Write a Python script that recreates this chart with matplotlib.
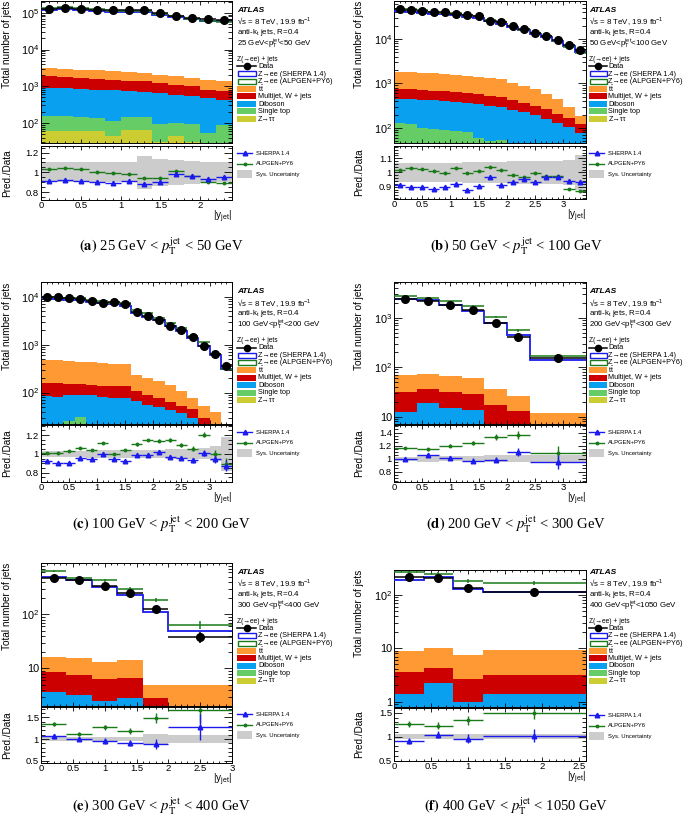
import numpy as np
import matplotlib
matplotlib.use("Agg")
import matplotlib.pyplot as plt
from matplotlib.patches import Rectangle
from matplotlib.lines import Line2D
from matplotlib.ticker import FixedLocator, MultipleLocator, FuncFormatter, LogLocator, NullFormatter

plt.rcParams['font.family'] = ['Liberation Sans', 'DejaVu Sans']
plt.rcParams['mathtext.fontset'] = 'custom'
plt.rcParams['mathtext.rm'] = 'Liberation Sans'
plt.rcParams['mathtext.it'] = 'Liberation Sans:italic'
plt.rcParams['mathtext.bf'] = 'Liberation Sans:bold'

# ---------------- data ----------------
# (a) 25-50 GeV
a_edges = [0, 0.2, 0.4, 0.6, 0.8, 1.0, 1.2, 1.4, 1.6, 1.8, 2.0, 2.2, 2.4]
a_data = [1.31e5, 1.37e5, 1.31e5, 1.23e5, 1.16e5, 1.16e5, 1.16e5, 9.6e4, 8.1e4, 7.3e4, 6.6e4, 6.2e4]
a_sherpa = [0.915, 0.92, 0.91, 0.90, 0.89, 0.915, 0.885, 0.90, 0.98, 0.96, 0.93, 0.95]
a_alpgen = [1.037, 1.047, 1.03, 1.007, 0.993, 0.986, 0.94, 0.946, 1.01, 0.96, 0.905, 0.895]
a_sys = [0.1, 0.1, 0.1, 0.1, 0.1, 0.1, 0.17, 0.14, 0.13, 0.12, 0.1, 0.1]
a_err = [0.004] * 12
a_ztt = [59, 59, 59, 59, 43, 66, 66, 30, 43, 30, 25, 28]
a_stop = [93, 93, 86, 78, 67, 79, 79, 66, 57, 66, 28, 62]
a_dib = [750, 750, 705, 675, 670, 585, 545, 565, 490, 435, 430, 340]
a_mj = [970, 900, 840, 780, 740, 700, 680, 570, 520, 470, 330, 300]
a_tt = [1290, 1230, 1160, 1130, 1020, 980, 940, 850, 760, 690, 710, 640]

# (b) 50-100 GeV
b_edges = [0, 0.2, 0.4, 0.6, 0.8, 1.0, 1.2, 1.4, 1.6, 1.8, 2.0, 2.2, 2.4, 2.6, 2.8, 3.0, 3.2, 3.4]
b_data = [46700, 44400, 42800, 40600, 39300, 36600, 34800, 32400, 25900, 23400, 19600,
          16500, 13700, 11700, 9300, 7300, 5500]
b_sherpa = [0.91, 0.90, 0.897, 0.887, 0.90, 0.92, 0.88, 0.905, 0.965, 0.915, 0.93, 0.953,
            0.934, 0.965, 0.97, 0.94, 0.93]
b_alpgen = [1.02, 1.035, 1.024, 1.012, 0.993, 1.033, 0.993, 1.014, 1.04, 1.016, 0.984, 0.97,
            0.998, 0.972, 0.976, 0.887, 0.868]
b_sys = [0.07] * 6 + [0.075] * 4 + [0.08] * 5 + [0.09, 0.125]
b_err = [0.004] * 17
b_ztt = [30, 28, 25, 25, 22, 20, 20, 18, 15, 15, 12, 10, 8, 7, 6, 5, 4]
b_stop = [100, 97, 75, 70, 68, 65, 60, 42, 35, 40, 28, 25, 22, 21, 19, 15, 11]
b_dib = [328, 326, 336, 325, 316, 300, 286, 282, 268, 243, 219, 195, 163, 134, 105, 85, 62]
b_mj = [287, 284, 274, 270, 264, 260, 239, 233, 212, 187, 161, 140, 122, 103, 80, 60, 48]
b_tt = [1085, 1065, 1030, 990, 950, 925, 885, 845, 790, 745, 630, 520, 435, 315, 240, 135, 58]

# (c) 100-200 GeV
c_edges = b_edges
c_data = [1.0e4, 1.0e4, 9.2e3, 8.8e3, 8.2e3, 7.5e3, 7.6e3, 7.0e3, 4.7e3, 3.9e3, 3.2e3,
          2.5e3, 2.0e3, 1.47e3, 940, 630, 350]
c_sherpa = [0.92, 0.907, 0.907, 0.954, 0.94, 0.993, 0.94, 0.92, 0.99, 0.99, 1.018, 0.97,
            0.96, 0.93, 1.01, 0.946, 0.875]
c_alpgen = [1.01, 1.01, 1.03, 1.06, 1.043, 1.11, 0.993, 1.036, 1.10, 1.146, 1.14, 1.146,
            1.09, 1.054, 1.204, 1.0, 0.893]
c_sys = [0.035] * 4 + [0.04] * 5 + [0.045, 0.045, 0.05, 0.05, 0.055, 0.06, 0.08, 0.18]
c_err = [0.008] * 8 + [0.012, 0.014, 0.016, 0.018, 0.02, 0.025, 0.03, 0.04, 0.06]
c_ztt = [6, 6, 6, 6, 5, 5, 5, 5, 4, 4, 4, 3, 3, 3, 2, 2, 1]
c_stop = [9, 9, 20, 25, 11, 10, 10, 9, 8, 8, 7, 7, 6, 5, 4, 3, 0]
c_dib = [70, 67, 63, 58, 71, 67, 63, 62, 53, 43, 40, 33, 28, 21, 9, 3, 1]
c_mj = [72, 73, 63, 59, 58, 58, 59, 58, 40, 34, 24, 19, 15, 16, 15, 7, 1]
c_tt = [323, 315, 308, 292, 285, 280, 263, 256, 130, 111, 95, 83, 53, 31, 22, 25, 2]

# (d) 200-300 GeV
d_edges = [0, 0.4, 0.8, 1.2, 1.6, 2.0, 2.4, 3.4]
d_data = [2380, 2170, 1780, 1410, 780, 406, 151]
d_sherpa = [0.995, 1.05, 1.01, 0.97, 0.985, 1.1, 0.943]
d_alpgen = [1.163, 1.14, 1.2, 1.245, 1.334, 1.36, 1.09]
d_sys = [0.03, 0.05, 0.04, 0.04, 0.05, 0.06, 0.06]
d_err = [0.02, 0.028, 0.028, 0.032, 0.042, 0.065, 0.11]
d_ztt = [0.5, 0.5, 0.5, 0.5, 0.3, 0.3, 0.3]
d_stop = [1, 1, 1, 1, 0.7, 0.7, 0.5]
d_dib = [11.1, 17.5, 13.5, 12, 2, 2, 1.2]
d_mj = [18.9, 18, 16, 15.5, 14, 10, 3]
d_tt = [39.5, 37, 34, 32, 20, 13, 7]

# (e) 300-400 GeV
e_edges = [0, 0.4, 0.8, 1.2, 1.6, 2.0, 3.0]
e_data = [464, 426, 335, 252, 125, 38.5]
e_sherpa = [1.06, 1.0, 0.96, 0.915, 0.89, 1.28]
e_alpgen = [1.35, 1.11, 1.27, 1.18, 1.49, 1.67]
e_sys = [0.05, 0.05, 0.05, 0.05, 0.12, 0.085]
e_err = [0.05, 0.05, 0.065, 0.07, 0.11, 0.3]
e_ztt = [0.2] * 6
e_stop = [0.4, 0.4, 0.4, 0.4, 0.3, 0.2]
e_dib = [3.1, 2.6, 1.9, 2.2, 0.3, 0.1]
e_mj = [5.0, 4.3, 3.8, 3.8, 2.0, 1.0]
e_tt = [7.7, 7.8, 7.0, 7.6, 2.1, 3.4]

# (f) 400-1050 GeV
f_edges = [0, 0.4, 0.8, 1.2, 2.6]
f_data = [214, 205, 137, 112]
f_sherpa = [0.91, 1.04, 0.96, 1.02]
f_alpgen = [1.26, 1.23, 1.34, 1.49]
f_sys = [0.05, 0.05, 0.05, 0.05]
f_err = [0.06, 0.07, 0.09, 0.13]
f_ztt = [0.3] * 4
f_stop = [0.5] * 4
f_dib = [0.6, 1.47, 0.2, 0.57]
f_mj = [2.25, 2.03, 1.6, 1.83]
f_tt = [5.4, 5.7, 4.9, 6.1]

pt_ranges = [("25", "50"), ("50", "100"), ("100", "200"), ("200", "300"), ("300", "400"), ("400", "1050")]

# ---------------- style ----------------
W, H = 685, 821
col_tt, col_mj, col_dib, col_stop, col_ztt = '#ff9933', '#cc0000', '#0aa0f0', '#66cc66', '#cccc33'
col_sh, col_al, col_sys = '#1a1aee', '#1a7a1a', '#cccccc'
bkg_colors = [col_ztt, col_stop, col_dib, col_mj, col_tt]

fig = plt.figure(figsize=(W / 100, H / 100), dpi=100)


def fbox(x0, y0, x1, y1):
    return [x0 / W, 1 - y1 / H, (x1 - x0) / W, (y1 - y0) / H]


def fpt(x, y):
    return x / W, 1 - y / H


def logfmt(v, pos):
    e = int(round(np.log10(v)))
    if e == 0:
        return '1'
    if e == 1:
        return '10'
    return r'$\mathrm{10^{%d}}$' % e


def legend_box(x, y, w, h, **kw):
    fig.add_artist(Rectangle((x / W, 1 - (y + h / 2) / H), w / W, h / H,
                             transform=fig.transFigure, **kw))


panels = [
    dict(tag='a', edges=a_edges, data=a_data, sh=a_sherpa, al=a_alpgen, sys=a_sys, err=a_err,
         bkg=[a_ztt, a_stop, a_dib, a_mj, a_tt], col=0, yu=(1, 143), yr=(145.7, 200),
         ylim=(28.5, 2.1e5), rlim=(0.72, 1.27), rticks=[0.8, 1, 1.2], rminor=0.05,
         xlim=2.4, cap_y=246),
    dict(tag='b', edges=b_edges, data=b_data, sh=b_sherpa, al=b_alpgen, sys=b_sys, err=b_err,
         bkg=[b_ztt, b_stop, b_dib, b_mj, b_tt], col=1, yu=(1, 143), yr=(145.7, 199),
         ylim=(46, 7.1e4), rlim=(0.813, 1.189), rticks=[0.9, 1, 1.1], rminor=0.02,
         xlim=3.4, cap_y=246),
    dict(tag='c', edges=c_edges, data=c_data, sh=c_sherpa, al=c_alpgen, sys=c_sys, err=c_err,
         bkg=[c_ztt, c_stop, c_dib, c_mj, c_tt], col=0, yu=(282.3, 424), yr=(424.7, 482),
         ylim=(22, 2.0e4), rlim=(0.70, 1.31), rticks=[0.8, 1, 1.2], rminor=0.05,
         xlim=3.4, cap_y=524),
    dict(tag='d', edges=d_edges, data=d_data, sh=d_sherpa, al=d_alpgen, sys=d_sys, err=d_err,
         bkg=[d_ztt, d_stop, d_dib, d_mj, d_tt], col=1, yu=(282.3, 424), yr=(424.7, 482),
         ylim=(7.1, 5200), rlim=(0.64, 1.52), rticks=[0.8, 1, 1.2, 1.4], rminor=0.05,
         xlim=3.4, cap_y=524),
    dict(tag='e', edges=e_edges, data=e_data, sh=e_sherpa, al=e_alpgen, sys=e_sys, err=e_err,
         bkg=[e_ztt, e_stop, e_dib, e_mj, e_tt], col=0, yu=(562.7, 705.7), yr=(706.5, 763),
         ylim=(2.04, 905), rlim=(0.45, 1.75), rticks=[0.5, 1, 1.5], rminor=0.1,
         xlim=3.0, cap_y=806),
    dict(tag='f', edges=f_edges, data=f_data, sh=f_sherpa, al=f_alpgen, sys=f_sys, err=f_err,
         bkg=[f_ztt, f_stop, f_dib, f_mj, f_tt], col=1, yu=(570, 706.7), yr=(707.5, 761),
         ylim=(0.8, 294), rlim=(0.49, 1.61), rticks=[0.5, 1, 1.5], rminor=0.1,
         xlim=2.6, cap_y=806),
]

names = ['Data', 'Z→ee (SHERPA 1.4)', 'Z→ee (ALPGEN+PY6)', r'$\mathrm{t\bar{t}}$',
         'Multijet, W + jets', 'Diboson', 'Single top', 'Z→ττ']
fills = [col_tt, col_mj, col_dib, col_stop, col_ztt]

for i, p in enumerate(panels):
    x0, x1 = (41, 232) if p['col'] == 0 else (394, 586)
    ut, ub = p['yu']
    rt, rb = p['yr']
    ax = fig.add_axes(fbox(x0, ut, x1, ub))
    rax = fig.add_axes(fbox(x0, rt, x1, rb))

    edges = np.array(p['edges'], dtype=float)
    cen = 0.5 * (edges[:-1] + edges[1:])
    hw = 0.5 * np.diff(edges)
    data = np.array(p['data'])
    rsh = np.array(p['sh'])
    ral = np.array(p['al'])
    err = np.array(p['err'])
    sys = np.array(p['sys'])

    # stacked backgrounds
    bottom = np.full(len(cen), 1e-3)
    for vals, col in zip(p['bkg'], bkg_colors):
        top = bottom + np.array(vals, dtype=float)
        ax.stairs(top, edges, baseline=bottom, fill=True, color=col, lw=0)
        bottom = top

    ax.stairs(data * rsh, edges, baseline=None, color=col_sh, lw=1.3, zorder=3)
    ax.errorbar(cen, data * ral, xerr=hw, yerr=data * err, fmt='none', ecolor=col_al,
                elinewidth=1.1, capsize=0, zorder=4)
    ax.errorbar(cen, data, xerr=hw, yerr=data * err * 0.8, fmt='o', color='black',
                ms=5.5, elinewidth=1.1, capsize=0, zorder=5)

    ax.set_yscale('log')
    ax.set_ylim(*p['ylim'])
    ax.set_xlim(0, p['xlim'])
    ax.yaxis.set_major_locator(LogLocator(base=10))
    ax.yaxis.set_minor_locator(LogLocator(base=10, subs=np.arange(2, 10)))
    ax.yaxis.set_major_formatter(FuncFormatter(logfmt))
    ax.yaxis.set_minor_formatter(NullFormatter())

    # ratio panel
    rax.stairs(1 + sys, edges, baseline=1 - sys, fill=True, color=col_sys, lw=0)
    rax.errorbar(cen, ral, xerr=hw, yerr=err, fmt='o', color=col_al, ms=1.8,
                 elinewidth=1.0, capsize=0)
    rax.errorbar(cen, rsh, xerr=hw, yerr=err, fmt='^', color=col_sh, ms=3.3,
                 elinewidth=1.0, capsize=0)
    rax.set_xlim(0, p['xlim'])
    rax.set_ylim(*p['rlim'])
    rax.yaxis.set_major_locator(FixedLocator(p['rticks']))
    rax.yaxis.set_minor_locator(MultipleLocator(p['rminor']))
    rax.yaxis.set_major_formatter(FuncFormatter(lambda v, pos: '%g' % v))

    for a in (ax, rax):
        a.xaxis.set_major_locator(MultipleLocator(0.5))
        a.xaxis.set_minor_locator(MultipleLocator(0.1))
        a.tick_params(which='both', direction='in', top=True, right=True, width=0.6)
        a.tick_params(axis='x', which='major', length=3.2)
        a.tick_params(axis='x', which='minor', length=1.6)
        a.tick_params(axis='y', which='major', length=6, pad=1.5)
        a.tick_params(axis='y', which='minor', length=3)
        for s in a.spines.values():
            s.set_linewidth(0.7)
    ax.tick_params(labelbottom=False, labelsize=7.8)
    rax.tick_params(axis='y', labelsize=6.8)
    rax.tick_params(axis='x', labelsize=6.8, pad=1.0)
    rax.xaxis.set_major_formatter(FuncFormatter(lambda v, pos: '%g' % v))

    # axis titles
    lx = 7.5 if p['col'] == 0 else 359
    fig.text(*fpt(lx, ut), 'Total number of jets', rotation=90, ha='center', va='top', size=7.2)
    fig.text(*fpt(lx, 0.5 * (rt + rb)), 'Pred./Data', rotation=90, ha='center', va='center', size=7.2)
    fig.text(*fpt(x1, rb + 17), r'|y$_{\mathrm{jet}}$|', ha='right', va='center', size=7.2)

    # labels + legend of the main panel
    lo, hi = pt_ranges[i]
    R = x1
    T = ut if p['tag'] != 'f' else 562.7
    bx, bw, tgap = (R + 5, 19, R + 26) if p['col'] == 0 else (R + 3, 18, R + 22.5)
    fig.text(*fpt(bx, T + 9.5), 'ATLAS', weight='bold', style='italic', size=6.0, va='center')
    fig.text(*fpt(bx, T + 20.5), r'√s = 8 TeV, 19.9 fb$^{-1}$', size=5.7, va='center')
    fig.text(*fpt(bx, T + 31.5), r'anti-k$_{\mathrm{t}}$ jets, R=0.4', size=5.7, va='center')
    fig.text(*fpt(bx, T + 43), lo + r' GeV<$\mathrm{p_{T}^{jet}}$<' + hi + ' GeV', size=5.7, va='center')
    fig.text(*fpt(bx, T + 58.5), 'Z(→ee) + jets', size=4.8, va='center')
    for k, name in enumerate(names):
        yy = T + 65.5 + 7.5 * k
        if k == 0:
            fig.add_artist(Line2D([bx / W, (bx + bw) / W], [1 - yy / H] * 2, color='black', lw=1.1,
                                  transform=fig.transFigure))
            fig.add_artist(Line2D([(bx + bw / 2) / W], [1 - yy / H], marker='o', ms=4.5, color='black',
                                  transform=fig.transFigure))
        elif k in (1, 2):
            legend_box(bx + 0.5, yy, bw - 1, 5, facecolor='white',
                       edgecolor=col_sh if k == 1 else col_al, lw=1.0)
        else:
            legend_box(bx, yy, bw, 6, facecolor=fills[k - 3], lw=0)
        fig.text(*fpt(tgap, yy), name, size=5.2, va='center')

    # ratio legend
    ry = [rt + 7.5, rt + 18, rt + 28.5]
    lx0 = R + 5 if p['col'] == 0 else R + 3
    fig.add_artist(Line2D([lx0 / W, (lx0 + 7.5) / W, (lx0 + 15) / W], [1 - ry[0] / H] * 3, color=col_sh,
                          lw=1.0, marker='^', markevery=[1], ms=3.3, transform=fig.transFigure))
    fig.add_artist(Line2D([lx0 / W, (lx0 + 7.5) / W, (lx0 + 15) / W], [1 - ry[1] / H] * 3, color=col_al,
                          lw=1.0, marker='o', markevery=[1], ms=1.8, transform=fig.transFigure))
    legend_box(lx0, ry[2], 15, 8, facecolor=col_sys, lw=0)
    for yy, name in zip(ry, ['SHERPA 1.4', 'ALPGEN+PY6', 'Sys. Uncertainty']):
        fig.text(*fpt(lx0 + 18.5, yy), name, size=4.2, va='center')

    # caption
    cx = 161 if p['col'] == 0 else 516
    fig.text(*fpt(cx, p['cap_y']),
             r'$\mathbf{(%s)}$ %s GeV < $p_{\mathrm{T}}^{\mathrm{jet}}$ < %s GeV' % (p['tag'], lo, hi),
             family='Liberation Serif', math_fontfamily='stix', size=10.5, ha='center', va='center')

fig.savefig('out.png', dpi=100, facecolor='white')
